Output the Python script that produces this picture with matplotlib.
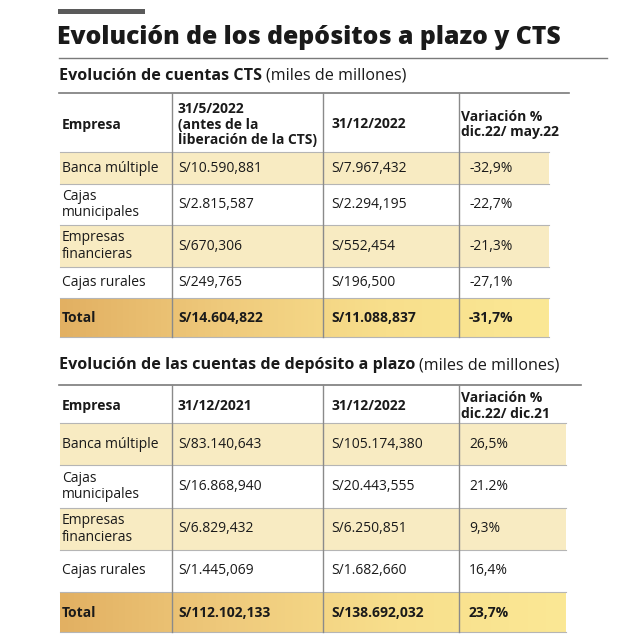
import numpy as np
import matplotlib.pyplot as plt
from matplotlib.colors import LinearSegmentedColormap

plt.rcParams['font.family'] = ['Open Sans', 'DejaVu Sans']

titulo = "Evolución de los depósitos a plazo y CTS"

# Tabla 1: cuentas CTS
cts_sub = ("Evolución de cuentas CTS", "(miles de millones)")
cts_headers = ["Empresa", "31/5/2022\n(antes de la\nliberación de la CTS)", "31/12/2022",
               "Variación %\ndic.22/ may.22"]
empresas = ["Banca múltiple", "Cajas\nmunicipales", "Empresas\nfinancieras", "Cajas rurales"]
cts_may22 = ["S/10.590,881", "S/2.815,587", "S/670,306", "S/249,765"]
cts_dic22 = ["S/7.967,432", "S/2.294,195", "S/552,454", "S/196,500"]
cts_var = ["-32,9%", "-22,7%", "-21,3%", "-27,1%"]
cts_total = ["Total", "S/14.604,822", "S/11.088,837", "-31,7%"]

# Tabla 2: depósitos a plazo
dp_sub = ("Evolución de las cuentas de depósito a plazo", "(miles de millones)")
dp_headers = ["Empresa", "31/12/2021", "31/12/2022", "Variación %\ndic.22/ dic.21"]
dp_dic21 = ["S/83.140,643", "S/16.868,940", "S/6.829,432", "S/1.445,069"]
dp_dic22 = ["S/105.174,380", "S/20.443,555", "S/6.250,851", "S/1.682,660"]
dp_var = ["26,5%", "21.2%", "9,3%", "16,4%"]
dp_total = ["Total", "S/112.102,133", "S/138.692,032", "23,7%"]

fig = plt.figure(figsize=(6.4, 6.4), dpi=100)
ax = fig.add_axes([0, 0, 1, 1])
ax.set_xlim(0, 640)
ax.set_ylim(640, 0)
ax.axis('off')

fill_col = '#f8ebc2'
grad = LinearSegmentedColormap.from_list('g', ['#e2b062', '#efca7c', '#f8df8c', '#fbe895'])
col_x = [62, 178, 331, 469]
div_x = [172, 323, 459]
FS = 10


def subtitle(y, parts):
    t = ax.text(59, y, parts[0], fontsize=11.6, weight='bold', va='center', color='#1a1a1a')
    fig.canvas.draw()
    bb = t.get_window_extent()
    x1 = ax.transData.inverted().transform((bb.x1, bb.y0))[0]
    ax.text(x1 + 4, y, parts[1], fontsize=11.6, va='center', color='#1a1a1a')


def table(top, edges, fill_end, line_end, headers, cols, total):
    ax.plot([59, line_end], [top, top], color='#7a7a7a', lw=1.2)
    hy = (top + edges[0]) / 2
    for i, h in enumerate(headers):
        ax.text(col_x[i] if i != 3 else col_x[i] - 8, hy + 2, h, fontsize=FS, weight='bold',
                va='center', color='#1a1a1a', linespacing=1.15)
    n = len(cols[0])
    for r in range(n):
        y0, y1 = edges[r], edges[r + 1]
        if r % 2 == 0:
            ax.fill_between([60, fill_end], y0, y1, color=fill_col, lw=0)
        yc = (y0 + y1) / 2
        for c in range(4):
            ax.text(col_x[c], yc, cols[c][r], fontsize=FS, va='center', color='#1a1a1a',
                    linespacing=1.1)
    y0, y1 = edges[-2], edges[-1]
    ax.imshow(np.linspace(0, 1, 256)[None, :], cmap=grad, aspect='auto',
              extent=(60, fill_end, y1, y0), zorder=0)
    for c in range(4):
        ax.text(col_x[c], (y0 + y1) / 2 + 1, total[c], fontsize=FS, weight='bold',
                va='center', color='#1a1a1a')
    for y in edges:
        ax.plot([60, fill_end], [y, y], color='#b5b5b5', lw=0.8)
    for x in div_x:
        ax.plot([x, x], [top, edges[-1]], color='#8a8a8a', lw=1)


ax.add_patch(plt.Rectangle((58, 9), 87, 5, color='#5a5a5a', lw=0))
ax.text(57, 37, titulo, fontsize=17.8, weight='heavy', va='center', color='#1a1a1a')
ax.plot([59, 607], [58, 58], color='#7a7a7a', lw=1)

subtitle(76, cts_sub)
table(93, [152, 184, 225, 267, 298, 337], 549, 569, cts_headers,
      [empresas, cts_may22, cts_dic22, cts_var], cts_total)

subtitle(365, dp_sub)
table(385, [423, 465, 508, 550, 592, 632], 566, 581, dp_headers,
      [empresas, dp_dic21, dp_dic22, dp_var], dp_total)

ax.set_xlim(0, 640)
ax.set_ylim(640, 0)
fig.savefig('out.png', dpi=100)
